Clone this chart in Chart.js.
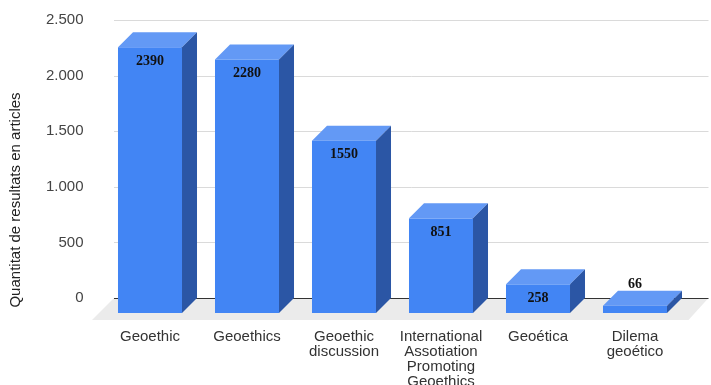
<!DOCTYPE html>
<html>
<head>
<meta charset="utf-8">
<script src="https://cdn.jsdelivr.net/npm/chart.js@4"></script>
<style>
  html, body { margin: 0; padding: 0; background: #fff; }
</style>
</head>
<body>
<canvas id="graph" width="711" height="385"></canvas>
<script>
const categories = [
  'Geoethic',
  'Geoethics',
  ['Geoethic', 'discussion'],
  ['International', 'Assotiation', 'Promoting', 'Geoethics'],
  'Geoética',
  ['Dilema', 'geoético']
];
const results = [2390, 2280, 1550, 851, 258, 66];
const yTicks = [0, 500, 1000, 1500, 2000, 2500];
const yTitle = 'Quantitat de resultats en articles';

const DEPTH = 15;
const FRONT = '#4285f4', TOP = '#6399f5', SIDE = '#2b56a5';

function fmt(v) {
  return String(v).replace(/\B(?=(\d{3})+(?!\d))/g, '.');
}

// fake 3d : floor, grid, then the bars drawn from the bar elements
const bars3d = {
  id: 'bars3d',
  beforeDatasetsDraw(chart) {
    const { ctx, chartArea: a, scales: { y } } = chart;
    const base = y.getPixelForValue(0);
    ctx.save();
    ctx.fillStyle = '#ebebeb';
    ctx.beginPath();
    ctx.moveTo(a.left - 2.5, base);
    ctx.lineTo(a.right + 10, base);
    ctx.lineTo(a.right - 10, base + 22);
    ctx.lineTo(a.left - 24.5, base + 22);
    ctx.closePath();
    ctx.fill();
    ctx.lineWidth = 1;
    yTicks.forEach(v => {
      const py = Math.round(y.getPixelForValue(v)) + 0.5;
      ctx.strokeStyle = v === 0 ? '#333' : '#dadada';
      ctx.beginPath();
      ctx.moveTo(a.left - 2.5, py);
      ctx.lineTo(a.right + 10, py);
      ctx.stroke();
    });
    ctx.restore();
  },
  afterDatasetsDraw(chart) {
    const { ctx, scales: { y } } = chart;
    const meta = chart.getDatasetMeta(0);
    const base = y.getPixelForValue(0);
    ctx.save();
    meta.data.forEach((bar, i) => {
      const half = bar.width / 2;
      const x0 = bar.x - DEPTH - half, x1 = bar.x - DEPTH + half;
      const top = bar.y + DEPTH, bottom = base + DEPTH;

      ctx.fillStyle = FRONT;
      ctx.fillRect(x0, top, x1 - x0, bottom - top);

      ctx.fillStyle = TOP;
      ctx.beginPath();
      ctx.moveTo(x0, top);
      ctx.lineTo(x1, top);
      ctx.lineTo(x1 + DEPTH, top - DEPTH);
      ctx.lineTo(x0 + DEPTH, top - DEPTH);
      ctx.closePath();
      ctx.fill();

      ctx.fillStyle = SIDE;
      ctx.beginPath();
      ctx.moveTo(x1, top);
      ctx.lineTo(x1 + DEPTH, top - DEPTH);
      ctx.lineTo(x1 + DEPTH, base);
      ctx.lineTo(x1, bottom);
      ctx.closePath();
      ctx.fill();

      ctx.fillStyle = '#111';
      ctx.font = 'bold 14px "Liberation Serif"';
      ctx.textAlign = 'center';
      ctx.textBaseline = 'middle';
      const ly = (bottom - top > 22) ? top + 14 : bar.y - 6;
      ctx.fillText(String(results[i]), bar.x - DEPTH, ly);
    });
    ctx.restore();
  },
  afterDraw(chart) {
    const ctx = chart.ctx;
    ctx.save();
    ctx.translate(16, 200);
    ctx.rotate(-Math.PI / 2);
    ctx.font = '15px "Liberation Sans"';
    ctx.fillStyle = '#222';
    ctx.textAlign = 'center';
    ctx.textBaseline = 'middle';
    ctx.fillText(yTitle, 0, 0);
    ctx.restore();
  }
};

const labelFont = { family: 'Liberation Sans', size: 15, lineHeight: 1 };

new Chart(document.getElementById('graph'), {
  type: 'bar',
  data: {
    labels: categories,
    datasets: [{
      data: results,
      backgroundColor: 'rgba(0,0,0,0)',
      barPercentage: 0.66,
      categoryPercentage: 1
    }]
  },
  options: {
    responsive: false,
    animation: false,
    layout: { padding: { top: 20, right: 12.5, left: 0, bottom: 0 } },
    plugins: { legend: { display: false }, tooltip: { enabled: false } },
    scales: {
      x: {
        grid: { display: false, drawTicks: false },
        border: { display: false },
        ticks: {
          padding: 31, labelOffset: -DEPTH, maxRotation: 0, autoSkip: false,
          color: '#333', font: labelFont
        },
        afterFit: s => { s.height = 87; }
      },
      y: {
        min: 0, max: 2500,
        grid: { display: false, drawTicks: false },
        border: { display: false },
        ticks: {
          stepSize: 500, padding: 33, color: '#444', font: labelFont,
          callback: v => fmt(v)
        },
        afterFit: s => { s.width = 116.5; s.paddingTop = 0; s.paddingBottom = 0; }
      }
    }
  },
  plugins: [bars3d]
});
</script>
</body>
</html>
